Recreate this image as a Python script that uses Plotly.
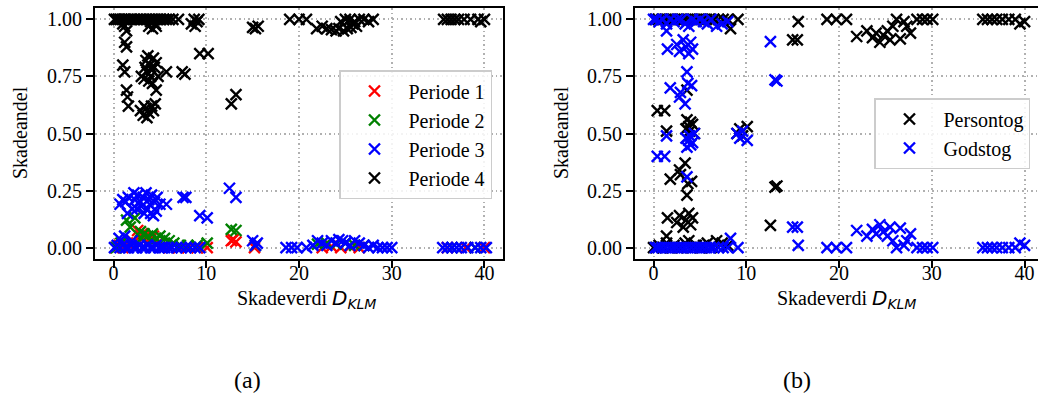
import plotly.graph_objects as go

# ---------------- Panel (a): share per period ----------------
p1_x = [0.2, 0.6, 1.0, 1.5, 2.0, 2.6, 2.9, 3.1, 3.4, 3.9, 4.3, 4.8, 5.4, 6.0, 7.0, 8.0, 9.0, 10.1,
        12.7, 12.9, 13.2, 15.2, 22.5, 23.5, 24.5, 25.5, 26.5, 36.0, 38.0, 40.0]
p1_y = [0.0, 0.01, 0.0, 0.02, 0.03, 0.075, 0.05, 0.06, 0.05, 0.04, 0.05, 0.02, 0.01, 0.0, 0.0, 0.0, 0.0, 0.0,
        0.03, 0.035, 0.025, 0.0, 0.0, 0.005, 0.0, 0.005, 0.0, 0.0, 0.0, 0.0]

p2_x = [0.3, 0.8, 1.4, 1.8, 2.3, 2.9, 3.0, 3.3, 3.7, 4.0, 4.2, 4.6, 5.0, 5.5, 6.0, 6.5, 7.2, 8.0, 9.0,
        10.1, 12.7, 13.2, 15.3, 22.0, 23.0, 24.0, 25.0, 26.0, 27.0, 36.5, 39.0]
p2_y = [0.0, 0.02, 0.12, 0.09, 0.13, 0.07, 0.04, 0.06, 0.05, 0.03, 0.06, 0.04, 0.05, 0.04, 0.03, 0.02, 0.01, 0.01, 0.01,
        0.02, 0.08, 0.075, 0.01, 0.015, 0.02, 0.015, 0.02, 0.01, 0.01, 0.0, 0.0]

p3_x = [0.7, 1.0, 1.3, 1.6, 2.0, 2.3, 2.6, 2.9, 3.2, 3.5, 3.8, 4.1, 4.4, 3.0, 3.6, 4.0, 4.3, 3.3, 4.7, 5.0,
        3.9, 2.2, 1.5, 2.5, 4.6,
        5.7, 7.5, 7.8, 9.3, 10.1, 12.5, 13.2,
        0.1, 0.4, 0.7, 1.0, 1.3, 1.6, 1.9, 2.2, 2.5, 2.8, 3.1, 3.4, 3.7, 4.0, 4.3, 4.6, 4.9, 5.2, 5.5, 5.9,
        6.3, 6.8, 7.3, 7.8, 8.3, 8.8, 9.3, 1.2, 2.0, 0.6,
        15.0, 15.5, 15.3, 18.6, 19.2, 19.8, 20.8, 21.5, 22.0, 22.5, 23.0, 23.5, 24.0, 24.3, 24.7, 25.0,
        25.5, 26.0, 26.5, 27.0, 27.5, 28.0, 28.5, 29.0, 29.5, 30.0,
        35.5, 36.0, 36.5, 37.0, 37.5, 38.2, 39.0, 39.6, 40.2]
p3_y = [0.19, 0.21, 0.20, 0.22, 0.17, 0.21, 0.23, 0.20, 0.22, 0.24, 0.21, 0.23, 0.20, 0.18, 0.17, 0.15, 0.14, 0.15, 0.22, 0.19,
        0.19, 0.24, 0.15, 0.17, 0.16,
        0.19, 0.22, 0.22, 0.14, 0.13, 0.26, 0.22,
        0.0, 0.01, 0.0, 0.01, 0.0, 0.0, 0.01, 0.0, 0.0, 0.01, 0.0, 0.0, 0.01, 0.0, 0.0, 0.01, 0.0, 0.0, 0.0, 0.0,
        0.0, 0.0, 0.0, 0.0, 0.0, 0.0, 0.0, 0.05, 0.03, 0.04,
        0.03, 0.02, 0.01, 0.0, 0.0, 0.0, 0.0, 0.01, 0.03, 0.02, 0.01, 0.03, 0.02, 0.035, 0.03, 0.02,
        0.01, 0.03, 0.02, 0.01, 0.0, 0.01, 0.0, 0.0, 0.0, 0.0,
        0.0, 0.0, 0.0, 0.0, 0.0, 0.0, 0.0, 0.0, 0.0]

p4_x = [0.1, 0.3, 0.5, 0.7, 0.9, 1.1, 1.3, 1.6, 1.9, 2.2, 2.5, 2.8, 3.0, 3.3, 3.6, 3.9, 4.2, 4.5, 4.8, 5.1,
        5.4, 5.7, 6.0, 6.4, 1.0, 1.2, 1.4, 3.8, 4.2, 4.5, 4.0, 4.6, 7.0, 8.4, 8.7, 9.0, 9.2, 8.8,
        1.2, 1.4, 1.0, 1.2, 1.4, 1.5, 1.6,
        3.0, 3.3, 3.5, 3.7, 3.9, 4.1, 4.3, 3.6, 4.0, 4.4, 3.8, 4.2, 4.6, 3.4, 4.8,
        2.9, 3.2, 3.5, 3.8, 4.1, 3.6, 4.3, 3.3, 4.5,
        4.6, 5.7, 7.4, 7.7, 9.3, 10.2, 12.7, 13.2, 15.0, 15.3, 15.6,
        19.0, 20.0, 20.8, 21.9, 22.5, 23.0, 23.5, 24.0, 24.3, 24.8, 25.2, 25.6, 24.5, 25.0, 25.5, 26.0,
        26.5, 27.0, 27.5, 28.0, 26.2, 25.8,
        35.6, 36.0, 36.4, 36.8, 37.2, 37.8, 38.5, 39.3, 40.0, 39.6]
p4_y = [1.0, 1.0, 1.0, 1.0, 1.0, 1.0, 1.0, 1.0, 1.0, 1.0, 1.0, 1.0, 1.0, 1.0, 1.0, 1.0, 1.0, 1.0, 1.0, 1.0,
        1.0, 1.0, 1.0, 1.0, 0.98, 0.97, 0.95, 0.97, 0.96, 0.98, 0.99, 0.97, 1.0, 0.98, 1.0, 0.99, 1.0, 0.97,
        0.90, 0.88, 0.80, 0.77, 0.69, 0.66, 0.62,
        0.75, 0.74, 0.82, 0.84, 0.80, 0.78, 0.83, 0.77, 0.75, 0.79, 0.73, 0.72, 0.81, 0.79, 0.75,
        0.60, 0.58, 0.61, 0.59, 0.62, 0.57, 0.60, 0.62, 0.63,
        0.69, 0.77, 0.77, 0.76, 0.85, 0.85, 0.63, 0.67, 0.965, 0.96, 0.97,
        1.0, 1.0, 1.0, 0.96, 0.97, 0.96, 0.955, 0.95, 0.96, 0.95, 0.96, 0.965, 0.99, 1.0, 1.0, 0.99,
        1.0, 1.0, 0.99, 1.0, 0.97, 0.98,
        1.0, 1.0, 1.0, 1.0, 1.0, 1.0, 1.0, 1.0, 1.0, 0.99]

# ---------------- Panel (b): passenger vs freight share ----------------
loc_x = [0.2, 0.5, 0.9, 1.3, 1.7, 2.1, 2.5, 2.9, 3.3, 3.7, 4.1, 4.5, 4.9, 5.3, 5.7, 6.1, 6.5, 7.0, 7.5, 8.0,
         0.0, 0.3, 0.6, 1.0, 1.4, 1.8, 2.2, 2.6, 3.0, 3.4, 3.8, 4.2, 4.6, 5.0, 5.4, 5.8, 6.2, 6.8, 7.4, 8.0,
         8.3, 9.1, 1.4, 1.5, 2.5, 2.8, 3.2, 3.5, 3.8, 4.0, 4.2,
         3.6, 3.7, 1.8, 2.8, 2.9, 3.4, 4.1, 3.6,
         0.4, 1.2, 1.4, 3.6, 3.8, 4.0, 3.5, 4.2, 3.9, 4.4,
         9.0, 9.3, 9.6, 10.1, 12.6, 13.1, 13.3, 15.0, 15.5, 15.6,
         18.7, 19.7, 20.8, 21.9, 23.0, 23.6, 24.0, 24.4, 24.8, 25.2, 25.5, 26.6, 26.2, 25.8, 27.3, 27.0,
         27.7, 28.4, 29.0, 29.5, 30.1,
         35.5, 36.0, 36.5, 37.0, 37.6, 38.3, 39.0, 39.5, 40.0]
persontog = [1.0, 1.0, 1.0, 1.0, 1.0, 1.0, 1.0, 1.0, 1.0, 1.0, 1.0, 1.0, 1.0, 1.0, 1.0, 1.0, 1.0, 1.0, 1.0, 1.0,
             0.0, 0.0, 0.01, 0.0, 0.02, 0.0, 0.01, 0.0, 0.0, 0.02, 0.03, 0.0, 0.01, 0.0, 0.01, 0.02, 0.0, 0.03, 0.02, 0.01,
             0.96, 1.0, 0.05, 0.13, 0.11, 0.14, 0.09, 0.12, 0.15, 0.10, 0.13,
             0.23, 0.28, 0.30, 0.34, 0.32, 0.37, 0.29, 0.69,
             0.60, 0.60, 0.51, 0.56, 0.53, 0.55, 0.52, 0.54, 0.51, 0.50,
             0.50, 0.52, 0.49, 0.53, 0.097, 0.265, 0.27, 0.91, 0.91, 0.99,
             1.0, 1.0, 1.0, 0.925, 0.95, 0.92, 0.94, 0.90, 0.93, 0.95, 0.91, 0.915, 1.0, 0.97, 0.97, 0.99,
             0.94, 1.0, 1.0, 1.0, 1.0,
             1.0, 1.0, 1.0, 1.0, 1.0, 1.0, 1.0, 0.98, 0.99]
godstog = [0.0, 0.0, 0.0, 0.0, 0.0, 0.0, 0.0, 0.0, 0.0, 0.0, 0.0, 0.0, 0.0, 0.0, 0.0, 0.0, 0.0, 0.0, 0.0, 0.0,
           1.0, 1.0, 0.99, 1.0, 0.98, 1.0, 0.99, 1.0, 1.0, 0.98, 0.97, 1.0, 0.99, 1.0, 0.99, 0.98, 1.0, 0.97, 0.98, 0.99,
           0.04, 0.0, 0.95, 0.87, 0.89, 0.86, 0.91, 0.88, 0.85, 0.90, 0.87,
           0.77, 0.72, 0.70, 0.66, 0.68, 0.63, 0.71, 0.31,
           0.40, 0.40, 0.49, 0.44, 0.47, 0.45, 0.48, 0.46, 0.49, 0.50,
           0.50, 0.48, 0.51, 0.47, 0.903, 0.735, 0.73, 0.09, 0.09, 0.01,
           0.0, 0.0, 0.0, 0.075, 0.05, 0.08, 0.06, 0.10, 0.07, 0.05, 0.09, 0.085, 0.0, 0.03, 0.03, 0.01,
           0.06, 0.0, 0.0, 0.0, 0.0,
           0.0, 0.0, 0.0, 0.0, 0.0, 0.0, 0.0, 0.02, 0.01]

x_ticks = [0, 10, 20, 30, 40]
y_ticks = [0.0, 0.25, 0.5, 0.75, 1.0]

SERIF = "Liberation Serif, Tinos, Times New Roman, DejaVu Serif, serif"
W, H = 1038, 396
FS = 20


def mk(x, y, color, name, xa, ya, legend, group):
    return go.Scatter(
        x=x, y=y, mode="markers", name=name, xaxis=xa, yaxis=ya,
        legend=legend, legendgroup=group,
        marker=dict(symbol="x-thin", size=11, color=color,
                    line=dict(color=color, width=2.4)),
    )


fig = go.Figure()
fig.add_trace(mk(p1_x, p1_y, "#ff0000", "Periode 1", "x", "y", "legend", "a1"))
fig.add_trace(mk(p2_x, p2_y, "#008000", "Periode 2", "x", "y", "legend", "a2"))
fig.add_trace(mk(p3_x, p3_y, "#0000ff", "Periode 3", "x", "y", "legend", "a3"))
fig.add_trace(mk(p4_x, p4_y, "#000000", "Periode 4", "x", "y", "legend", "a4"))
fig.add_trace(mk(loc_x, persontog, "#000000", "Persontog", "x2", "y2", "legend2", "b1"))
fig.add_trace(mk(loc_x, godstog, "#0000ff", "Godstog", "x2", "y2", "legend2", "b2"))

ydom = [1 - 259 / H, 1 - 8 / H]

axis_common = dict(
    showline=True, linecolor="black", linewidth=2,
    ticks="outside", ticklen=7, tickwidth=1.6, tickcolor="black",
    showgrid=True, gridcolor="#b0b0b0", griddash="1.5px,3px", gridwidth=1.5,
    zeroline=False, tickfont=dict(family=SERIF, size=FS, color="black"),
)

fig.update_layout(
    width=W, height=H, margin=dict(l=0, r=0, t=0, b=0),
    paper_bgcolor="white", plot_bgcolor="white",
    font=dict(family=SERIF, size=FS, color="black"),
    xaxis=dict(domain=[95 / W, 503 / W], range=[-2, 42], tickvals=x_ticks, anchor="y",
               mirror=True, ticklabelstandoff=-12, **axis_common),
    yaxis=dict(domain=ydom, range=[-0.05, 1.05], tickvals=y_ticks, tickformat=".2f", anchor="x",
               mirror=True, **axis_common),
    xaxis2=dict(domain=[635 / W, 1.0], range=[-2, 41.45], tickvals=x_ticks, anchor="y2",
                mirror=True, ticklabelstandoff=-12, **axis_common),
    yaxis2=dict(domain=ydom, range=[-0.05, 1.05], tickvals=y_ticks, tickformat=".2f", anchor="x2",
                mirror=False, **axis_common),
    legend=dict(x=492 / W, y=1 - 70 / H, xanchor="right", yanchor="top",
                bgcolor="rgba(255,255,255,0.85)", bordercolor="#cccccc", borderwidth=1.5,
                font=dict(family=SERIF, size=FS, color="black"), tracegroupgap=0,
                itemwidth=58, itemclick=False),
    legend2=dict(x=1030 / W, y=1 - 98 / H, xanchor="right", yanchor="top",
                 bgcolor="rgba(255,255,255,0.85)", bordercolor="#cccccc", borderwidth=1.5,
                 font=dict(family=SERIF, size=FS, color="black"), tracegroupgap=0,
                 itemwidth=58, itemclick=False),
    showlegend=True,
)

xlabel = "Skadeverdi <span style='font-family:DejaVu Sans'><i>D</i><sub><i>KLM</i></sub></span>"
annotations = [
    dict(text=xlabel, x=306 / W, y=1 - 284 / H, xref="paper", yref="paper",
         showarrow=False, font=dict(family=SERIF, size=FS, color="black"), xanchor="center", yanchor="top"),
    dict(text=xlabel, x=846 / W, y=1 - 284 / H, xref="paper", yref="paper",
         showarrow=False, font=dict(family=SERIF, size=FS, color="black"), xanchor="center", yanchor="top"),
    dict(text="Skadeandel", x=20 / W, y=1 - 133 / H, xref="paper", yref="paper", textangle=-90,
         showarrow=False, font=dict(family=SERIF, size=FS, color="black"), xanchor="center", yanchor="middle"),
    dict(text="Skadeandel", x=561 / W, y=1 - 133 / H, xref="paper", yref="paper", textangle=-90,
         showarrow=False, font=dict(family=SERIF, size=FS, color="black"), xanchor="center", yanchor="middle"),
    dict(text="(a)", x=247 / W, y=1 - 380 / H, xref="paper", yref="paper",
         showarrow=False, font=dict(family=SERIF, size=24, color="black"), xanchor="center", yanchor="middle"),
    dict(text="(b)", x=797 / W, y=1 - 380 / H, xref="paper", yref="paper",
         showarrow=False, font=dict(family=SERIF, size=24, color="black"), xanchor="center", yanchor="middle"),
]
fig.update_layout(annotations=annotations)

fig.write_html("out.html", config={"displayModeBar": False},
               post_script="document.body.style.margin='0px';document.body.style.overflow='hidden';")
